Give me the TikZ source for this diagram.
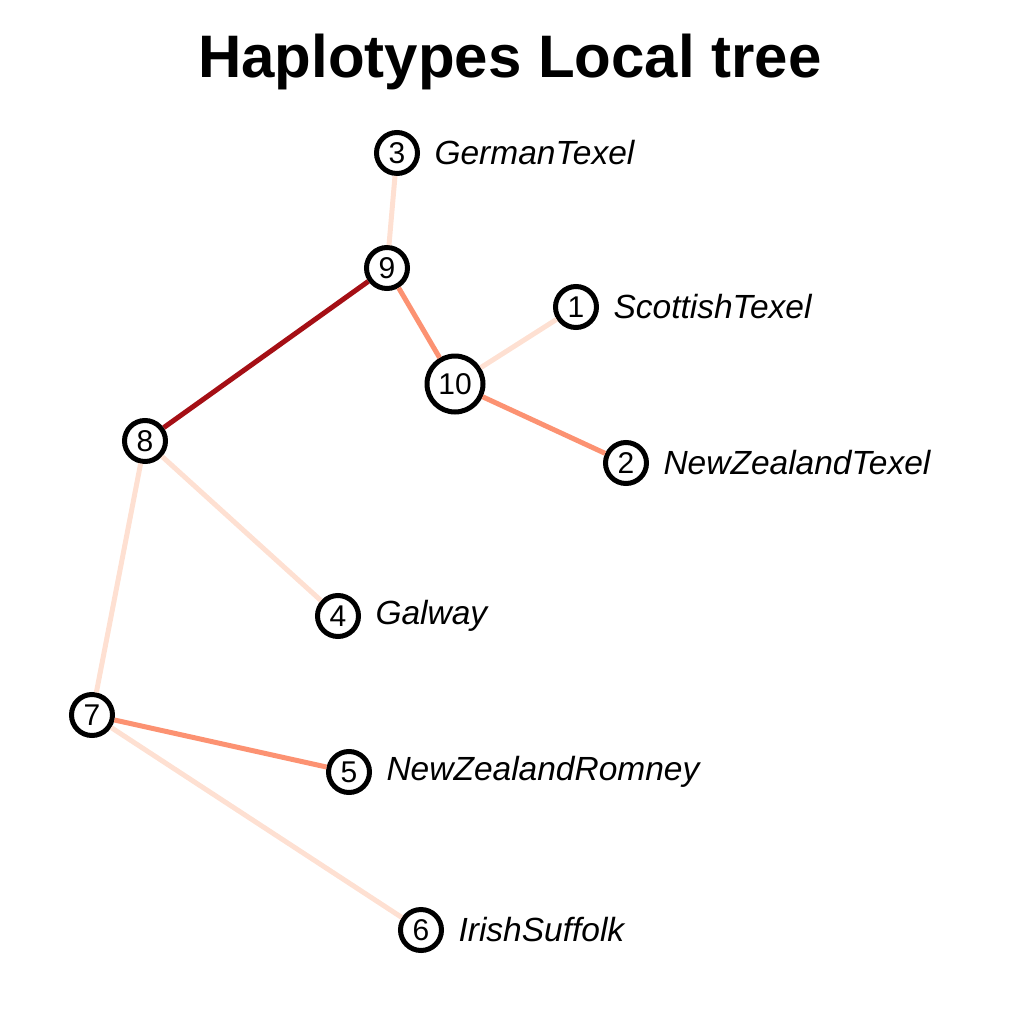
\documentclass[tikz,border=0pt]{standalone}
\usepackage{fontspec}
\setmainfont{Liberation Sans}
\definecolor{edgelight}{HTML}{FEE0D2}
\definecolor{edgemid}{HTML}{FC9272}
\definecolor{edgedark}{HTML}{A50F15}
\tikzset{
  hap/.style={circle, draw=black, line width=5pt, fill=white, minimum size=41pt, inner sep=0pt, font=\fontsize{30}{30}\selectfont},
  hapbig/.style={hap, minimum size=56pt},
  breed/.style={label={[font=\fontsize{33.5}{33.5}\selectfont\itshape, label distance=11pt]right:#1}},
  link/.style={line width=5pt, draw=#1}
}
\begin{document}
\begin{tikzpicture}[x=1pt,y=-1pt]
  \useasboundingbox (0,0) rectangle (1020,1020);
  \node[font=\fontsize{60}{60}\selectfont\bfseries] (title) at (510,62) {Haplotypes Local tree};
  % haplotype nodes
  \node[hap, breed=GermanTexel] (h3) at (397,153) {3};
  \node[hap] (h9) at (387,268) {9};
  \node[hap, breed=ScottishTexel] (h1) at (576,307) {1};
  \node[hapbig] (h10) at (455,384) {10};
  \node[hap, breed=NewZealandTexel] (h2) at (626,463) {2};
  \node[hap] (h8) at (145,441) {8};
  \node[hap, breed=Galway] (h4) at (338,616) {4};
  \node[hap] (h7) at (92,715) {7};
  \node[hap, breed=NewZealandRomney] (h5) at (349,772) {5};
  \node[hap, breed=IrishSuffolk] (h6) at (421,930) {6};
  % edges
  \draw[link=edgelight] (h3) -- (h9);
  \draw[link=edgedark] (h9) -- (h8);
  \draw[link=edgemid] (h9) -- (h10);
  \draw[link=edgelight] (h10) -- (h1);
  \draw[link=edgemid] (h10) -- (h2);
  \draw[link=edgelight] (h8) -- (h4);
  \draw[link=edgelight] (h8) -- (h7);
  \draw[link=edgemid] (h7) -- (h5);
  \draw[link=edgelight] (h7) -- (h6);
\end{tikzpicture}
\end{document}
